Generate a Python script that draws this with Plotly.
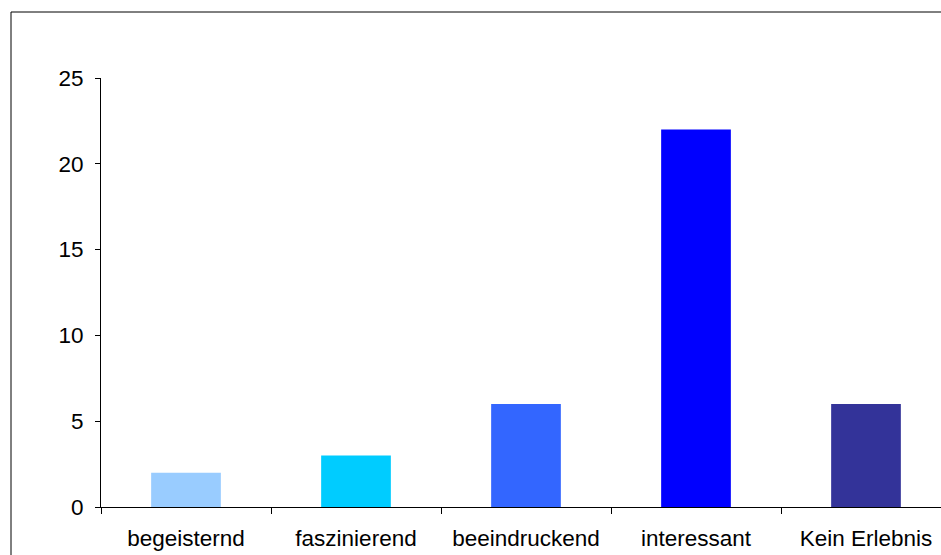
import plotly.graph_objects as go

categories = ["begeisternd", "faszinierend", "beeindruckend", "interessant", "Kein Erlebnis"]
values = [2, 3, 6, 22, 6]
colors = ["#99CCFF", "#00CCFF", "#3366FF", "#0000FF", "#333399"]
y_ticks = [0, 5, 10, 15, 20, 25]

W, H = 941, 555
L, T, B = 101, 78, 48
cat_px = 170.0
plot_w = W - L

fig = go.Figure(go.Bar(x=categories, y=values, marker=dict(color=colors, line=dict(width=0)),
                       width=0.41))

fig.update_layout(
    width=W, height=H,
    margin=dict(l=L, r=0, t=T, b=B, pad=0),
    paper_bgcolor="white", plot_bgcolor="white",
    font=dict(family="Liberation Sans, Arial, sans-serif", size=22.5, color="black"),
    showlegend=False,
    xaxis=dict(
        type="category", range=[-0.5, -0.5 + plot_w / cat_px],
        showline=True, linecolor="black", linewidth=1,
        ticks="outside", ticklen=6, tickcolor="black", tickson="boundaries",
        showgrid=False, zeroline=False, ticklabelstandoff=11,
    ),
    yaxis=dict(
        range=[0, 25], tickvals=y_ticks,
        showline=True, linecolor="black", linewidth=1,
        ticks="outside", ticklen=5, tickcolor="black",
        showgrid=False, zeroline=False, ticklabelstandoff=7,
    ),
    shapes=[
        dict(type="line", xref="paper", yref="paper",
             x0=(11 - L) / plot_w, x1=1.05, y0=1 + (T - 12) / (H - T - B), y1=1 + (T - 12) / (H - T - B),
             line=dict(color="black", width=1)),
        dict(type="line", xref="paper", yref="paper",
             x0=(11 - L) / plot_w, x1=(11 - L) / plot_w, y0=1 + (T - 12) / (H - T - B), y1=-0.2,
             line=dict(color="black", width=1)),
    ],
)

fig.write_html("out.html")
